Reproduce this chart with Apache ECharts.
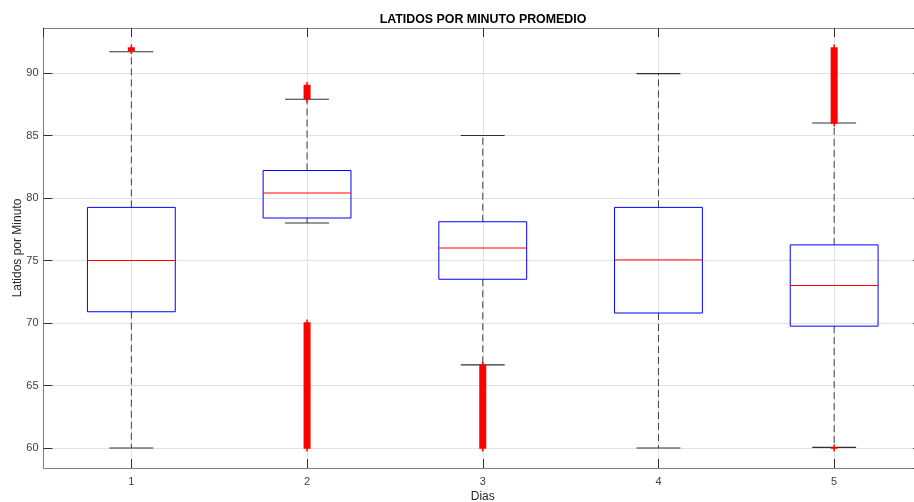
<!DOCTYPE html>
<html>
<head>
<meta charset="utf-8">
<script src="https://cdn.jsdelivr.net/npm/echarts@6/dist/echarts.min.js"></script>
<style>
  html, body { margin: 0; padding: 0; background: #fff; overflow: hidden; }
  #chart { width: 914px; height: 502px; }
</style>
</head>
<body>
<div id="chart"></div>
<script>
// ---- data ----
const categories = ['1', '2', '3', '4', '5'];
const whiskerLow  = [60.0, 78.0, 66.65, 60.0, 60.05];
const q1          = [70.9, 78.4, 73.5, 70.8, 69.75];
const medians     = [75.0, 80.4, 76.0, 75.05, 73.0];
const q3          = [79.25, 82.2, 78.1, 79.25, 76.25];
const whiskerHigh = [91.7, 87.9, 85.0, 89.95, 86.0];
// outliers: dense runs of '+' markers, given as [category index, lowest value, highest value]
const outlierRuns = [
  [0, 91.8, 92.0],
  [1, 60.0, 70.0],
  [1, 87.95, 89.0],
  [2, 60.0, 66.6],
  [4, 86.0, 92.0],
  [4, 60.0, 60.0]
];
const yTicks = [60, 65, 70, 75, 80, 85, 90];

const FONT = "'Liberation Sans', Arial, Helvetica, sans-serif";
const boxData = categories.map((c, i) => [i + 1, whiskerLow[i], q1[i], medians[i], q3[i], whiskerHigh[i]]);
const outData = outlierRuns.map(r => [r[0] + 1, r[1], r[2]]);

const chart = echarts.init(document.getElementById('chart'), null, { renderer: 'canvas', width: 914, height: 502 });

const axisLineStyle = { color: '#808080', width: 1 };
const tickStyle = { color: '#303030', width: 1 };

const option = {
  animation: false,
  backgroundColor: '#ffffff',
  title: {
    text: 'LATIDOS POR MINUTO PROMEDIO',
    left: 483,
    top: 14,
    padding: 0,
    textAlign: 'center',
    textStyle: { fontFamily: FONT, fontSize: 12.4, fontWeight: 'bold', color: '#000' }
  },
  grid: { left: 43.5, right: -8, top: 28, bottom: 34, containLabel: false, outerBoundsMode: 'none' },
  xAxis: [{
    type: 'value', min: 0.5, max: 5.5, splitNumber: 5, position: 'bottom',
    name: 'Dias', nameLocation: 'middle', nameGap: 23, nameMoveOverlap: false,
    nameTextStyle: { fontFamily: FONT, fontSize: 12, color: '#262626' },
    axisLine: { show: true, lineStyle: axisLineStyle },
    axisTick: { show: true, inside: true, length: 9, lineStyle: tickStyle },
    axisLabel: {
      showMinLabel: false, showMaxLabel: false, margin: 8,
      fontFamily: FONT, fontSize: 11, color: '#404040',
      formatter: v => { const k = Math.round(v); return Math.abs(v - k) < 1e-6 && k >= 1 && k <= categories.length ? categories[k - 1] : ''; }
    },
    splitLine: { show: true, lineStyle: { color: '#e2e2e2', width: 1 } }
  }, {
    type: 'value', min: 0.5, max: 5.5, splitNumber: 5, position: 'top',
    axisLine: { show: true, lineStyle: axisLineStyle },
    axisTick: { show: true, inside: true, length: 9, lineStyle: tickStyle },
    axisLabel: { show: false },
    splitLine: { show: false }
  }],
  yAxis: [{
    type: 'value', min: 58.4, max: 93.6, splitNumber: 7, position: 'left',
    name: 'Latidos por Minuto', nameLocation: 'middle', nameGap: 20, nameRotate: 90, nameMoveOverlap: false,
    nameTextStyle: { fontFamily: FONT, fontSize: 12, color: '#262626' },
    axisLine: { show: true, lineStyle: axisLineStyle },
    axisTick: { show: true, inside: true, length: 9, lineStyle: tickStyle },
    axisLabel: {
      showMinLabel: false, showMaxLabel: false, margin: 5,
      fontFamily: FONT, fontSize: 11, color: '#404040',
      formatter: v => (yTicks.indexOf(Math.round(v)) >= 0 && Math.abs(v - Math.round(v)) < 1e-6) ? String(Math.round(v)) : ''
    },
    splitLine: { show: true, lineStyle: { color: '#e2e2e2', width: 1 } }
  }, {
    type: 'value', min: 58.4, max: 93.6, splitNumber: 7, position: 'right',
    axisLine: { show: true, lineStyle: axisLineStyle },
    axisTick: { show: true, inside: true, length: 9, lineStyle: tickStyle },
    axisLabel: { show: false },
    splitLine: { show: false }
  }],
  series: [{
    type: 'custom',
    name: 'boxes',
    xAxisIndex: 0, yAxisIndex: 0,
    data: boxData,
    encode: { x: 0, y: [1, 2, 3, 4, 5] },
    z: 3,
    renderItem: function (params, api) {
      const x = api.value(0);
      const pLow = api.coord([x, api.value(1)]);
      const pQ1 = api.coord([x, api.value(2)]);
      const pMed = api.coord([x, api.value(3)]);
      const pQ3 = api.coord([x, api.value(4)]);
      const pHigh = api.coord([x, api.value(5)]);
      const boxW = api.size([0.5, 0])[0];
      const capW = boxW / 2;
      const cx = pMed[0];
      const dash = { stroke: '#404040', lineWidth: 1, lineDash: [7, 4] };
      return {
        type: 'group',
        children: [
          { type: 'line', shape: { x1: cx, y1: pQ3[1], x2: cx, y2: pHigh[1] }, style: dash },
          { type: 'line', shape: { x1: cx, y1: pQ1[1], x2: cx, y2: pLow[1] }, style: dash },
          { type: 'line', shape: { x1: cx - capW / 2, y1: pHigh[1], x2: cx + capW / 2, y2: pHigh[1] }, style: { stroke: '#303030', lineWidth: 1.2 } },
          { type: 'line', shape: { x1: cx - capW / 2, y1: pLow[1], x2: cx + capW / 2, y2: pLow[1] }, style: { stroke: '#303030', lineWidth: 1.2 } },
          { type: 'rect', shape: { x: cx - boxW / 2, y: pQ3[1], width: boxW, height: pQ1[1] - pQ3[1] }, style: { fill: null, stroke: '#0000ff', lineWidth: 1 } },
          { type: 'line', shape: { x1: cx - boxW / 2, y1: pMed[1], x2: cx + boxW / 2, y2: pMed[1] }, style: { stroke: '#ff0000', lineWidth: 1 } }
        ]
      };
    }
  }, {
    type: 'custom',
    name: 'outliers',
    xAxisIndex: 0, yAxisIndex: 0,
    data: outData,
    encode: { x: 0, y: [1, 2] },
    z: 4,
    renderItem: function (params, api) {
      const x = api.value(0);
      const pLo = api.coord([x, api.value(1)]);
      const pHi = api.coord([x, api.value(2)]);
      const half = 3.5;
      const cx = pLo[0];
      const red = { stroke: '#ff0000', lineWidth: 1.5 };
      return {
        type: 'group',
        children: [
          { type: 'rect', shape: { x: cx - half, y: pHi[1] - 0.75, width: half * 2, height: pLo[1] - pHi[1] + 1.5 }, style: { fill: '#ff0000' } },
          { type: 'line', shape: { x1: cx, y1: pHi[1] - half, x2: cx, y2: pLo[1] + half }, style: red }
        ]
      };
    }
  }]
};

chart.setOption(option);
</script>
</body>
</html>
